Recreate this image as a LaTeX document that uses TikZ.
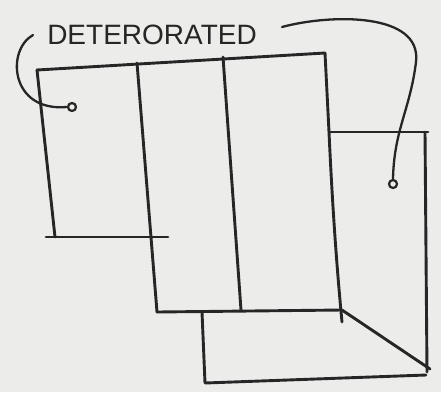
\documentclass[tikz,border=0pt]{standalone}
\usepackage{fontspec}
\setsansfont{Liberation Sans}
\usetikzlibrary{calc}
\definecolor{pencil}{RGB}{38,38,38}
\definecolor{paper}{RGB}{236,236,234}

\begin{document}
\begin{tikzpicture}[
    x=1pt,y=-1pt,
    line join=round,
    line cap=round,
    every node/.style={font=\sffamily},
    stroke/.style={draw=pencil, line width=2.9pt},
    lead/.style={draw=pencil, line width=2.3pt},
    spot/.style={circle, draw=pencil, line width=2.2pt, fill=paper, minimum size=8pt, inner sep=0pt},
    lbl/.style={font=\sffamily\fontsize{28}{28}\selectfont, text=pencil}
]

% Paper
\fill[paper] (0,0) rectangle (441,392);
\useasboundingbox (0,0) rectangle (441,392);

% Label
\node[lbl] (label) at (152,35) {DETERORATED};

% Corners of the panels
\coordinate (lt) at (37,70);
\coordinate (lb) at (55,237);
\coordinate (mt1) at (137,63);
\coordinate (mb1) at (157,312);
\coordinate (mt2) at (223,57);
\coordinate (mb2) at (241,310);
\coordinate (mt3) at (325,53);
\coordinate (mm3) at (329,132);
\coordinate (mb3) at (342,310);
\coordinate (rt) at (425,132);
\coordinate (rb) at (427,372);
\coordinate (bt) at (202,312);
\coordinate (bb) at (205,383);

% Left panel
\draw[stroke] (lt) -- (mt3);
\draw[stroke] (lt) -- (lb);
\draw[stroke] (46,237) -- (168,237);

% Middle panels
\draw[stroke] (mt1) -- (mb1);
\draw[stroke] (mt2) -- (mb2);
\draw[stroke] (mt3) -- (mm3) .. controls (333,220) and (338,280) .. (342,322);
\draw[stroke] (mb1) -- (mb3);

% Right panel
\draw[stroke] (mm3) -- (428,132);
\draw[stroke] (rt) -- (rb);

% Bottom panel
\draw[stroke] (bt) -- (bb) -- (426,375);
\draw[stroke] (mb3) -- (430,369);

% Spots and leads
\node[spot] (spotL) at (72,107) {};
\node[spot] (spotR) at (393,184) {};
\coordinate (startL) at (33,35);
\coordinate (startR) at (282,27);
\draw[lead] (startL) .. controls (6,50) and (10,112) .. (spotL.west);
\draw[lead] (startR) .. controls (330,14) and (422,12) .. (416,62)
    .. controls (410,110) and (394,130) .. (spotR.north);

\end{tikzpicture}
\end{document}
